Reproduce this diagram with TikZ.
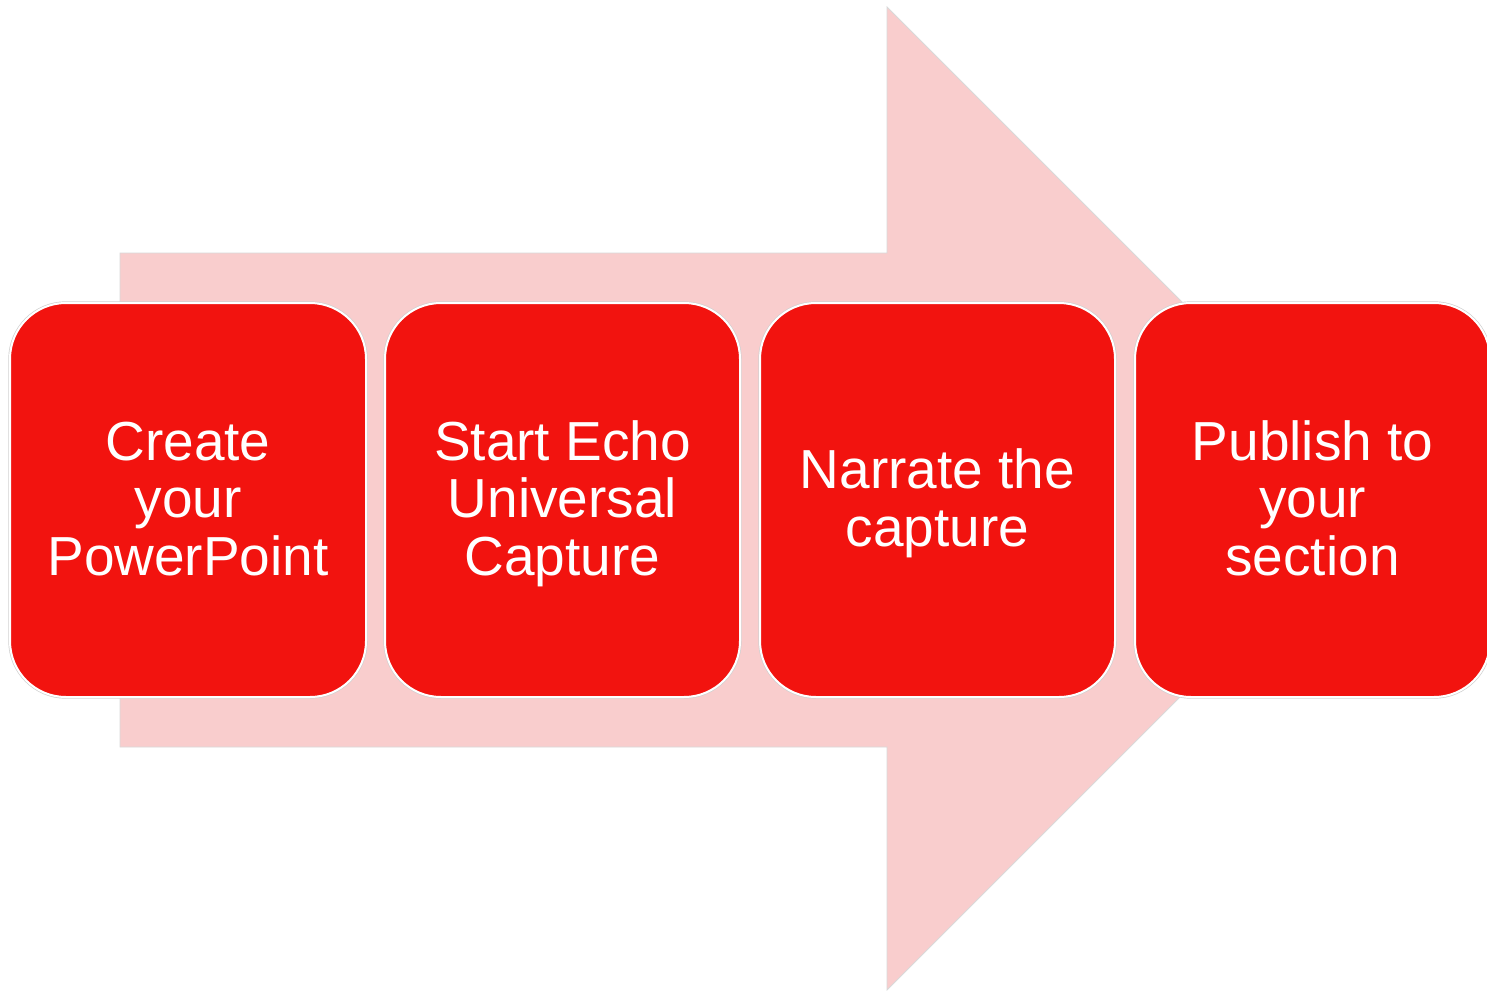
\documentclass[tikz,border=0pt]{standalone}
\usepackage{fontspec}
\setmainfont{Liberation Sans}
\definecolor{stepred}{RGB}{242,19,15}
\definecolor{arrowpink}{RGB}{249,205,205}
\tikzset{
  stepbox/.style={draw=white, line width=2pt, fill=stepred, rounded corners=56pt,
    minimum width=355pt, minimum height=394pt, inner sep=0pt,
    preaction={draw=black!18, line width=3.4pt}},
  steptext/.style={text=white, align=center, inner sep=0pt,
    font=\fontsize{55}{57.5}\selectfont},
}
\begin{document}
\begin{tikzpicture}[x=1pt, y=-1pt]
  \useasboundingbox[fill=white] (0,0) rectangle (1487,990);
  % large background arrow
  \fill[arrowpink, draw=black!15, line width=0.8pt]
    (120,253) -- (887,253) -- (887,7) -- (1378.5,498.5) -- (887,990)
    -- (887,747) -- (120,747) -- cycle;
  % the four steps
  \node[stepbox, minimum width=356pt] (b1) at (188,500) {};
  \node[stepbox] (b2) at (562.5,500) {};
  \node[stepbox] (b3) at (937.5,500) {};
  \node[stepbox] (b4) at (1312.5,500) {};
  \node[steptext] (t1) at ([yshift=-6pt]b1.center) {\strut Create\\\strut your\\\strut PowerPoint};
  \node[steptext] (t2) at ([yshift=-6pt]b2.center) {\strut Start Echo\\\strut Universal\\\strut Capture};
  \node[steptext] (t3) at ([yshift=-6pt]b3.center) {\strut Narrate the\\\strut capture};
  \node[steptext] (t4) at ([yshift=-6pt]b4.center) {\strut Publish to\\\strut your\\\strut section};
\end{tikzpicture}
\end{document}
